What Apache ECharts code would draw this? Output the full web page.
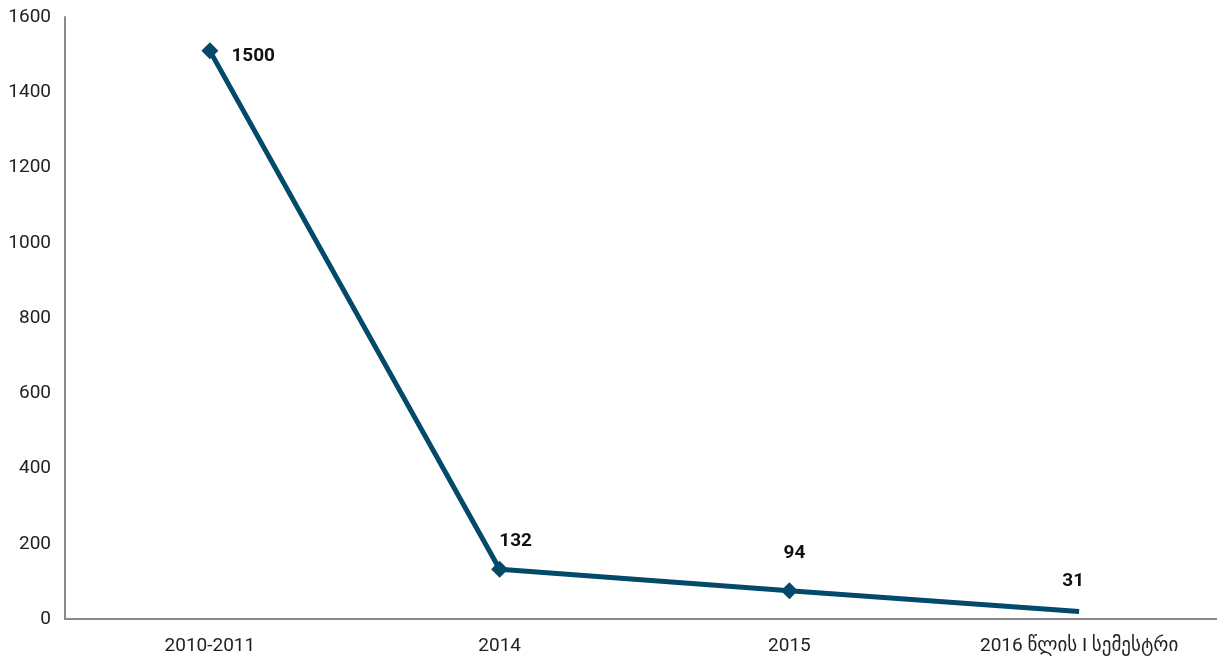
<!DOCTYPE html>
<html>
<head>
<meta charset="utf-8">
<script src="https://cdn.jsdelivr.net/npm/echarts@6/dist/echarts.min.js"></script>
<style>
  html, body { margin: 0; padding: 0; background: #fff; }
  #chart { width: 1217px; height: 662px; }
</style>
</head>
<body>
<div id="chart"></div>
<script>
  // categories and values as plotted
  var categories = ['2010-2011', '2014', '2015', '2016 წლის I სემესტრი']
  var values = [1510, 132, 75, 20]
  // label text shown next to each point
  var labelTexts = ['1500', '132', '94', '31']
  var yTicks = { min: 0, max: 1600, interval: 200 }

  var FONT = 'Roboto, "DejaVu Sans", sans-serif'
  var LINE = '#02496a'

  // per-point label placement
  var labelPos = [
    { position: 'right', offset: [8, 5] },
    { position: 'top', offset: [16, -5] },
    { position: 'top', offset: [5, -15] },
    { position: 'top', offset: [-6, -16] }
  ]

  var seriesData = values.map(function(v, i) {
    var item = {
      value: v,
      label: {
        position: labelPos[i].position,
        offset: labelPos[i].offset,
        formatter: labelTexts[i]
      }
    }
    if (i === values.length - 1) {
      item.symbolSize = 0 // no marker on the last point
    }
    return item
  })

  var chart = echarts.init(document.getElementById('chart'))
  chart.setOption({
    animation: false,
    grid: { left: 65, right: -7, top: 17, bottom: 43, outerBoundsMode: 'none', containLabel: false },
    xAxis: {
      type: 'category',
      data: categories,
      boundaryGap: true,
      axisLine: { lineStyle: { color: '#8a8a8c', width: 2 } },
      axisTick: { show: false },
      axisLabel: { color: '#222', fontSize: 19, fontFamily: FONT, margin: 18 }
    },
    yAxis: {
      type: 'value',
      min: yTicks.min,
      max: yTicks.max,
      interval: yTicks.interval,
      axisLine: { show: true, lineStyle: { color: '#8a8a8c', width: 2 } },
      axisTick: { show: false },
      splitLine: { show: false },
      axisLabel: {
        color: '#222', fontSize: 19, fontFamily: FONT, margin: 14,
        formatter: function(v) { return String(v) }
      }
    },
    series: [{
      type: 'line',
      data: seriesData,
      symbol: 'diamond',
      symbolSize: 17,
      showAllSymbol: true,
      lineStyle: { color: LINE, width: 5 },
      itemStyle: { color: LINE },
      label: {
        show: true,
        color: '#111',
        fontSize: 19,
        fontWeight: 'bold',
        fontFamily: FONT
      }
    }]
  })
</script>
</body>
</html>
